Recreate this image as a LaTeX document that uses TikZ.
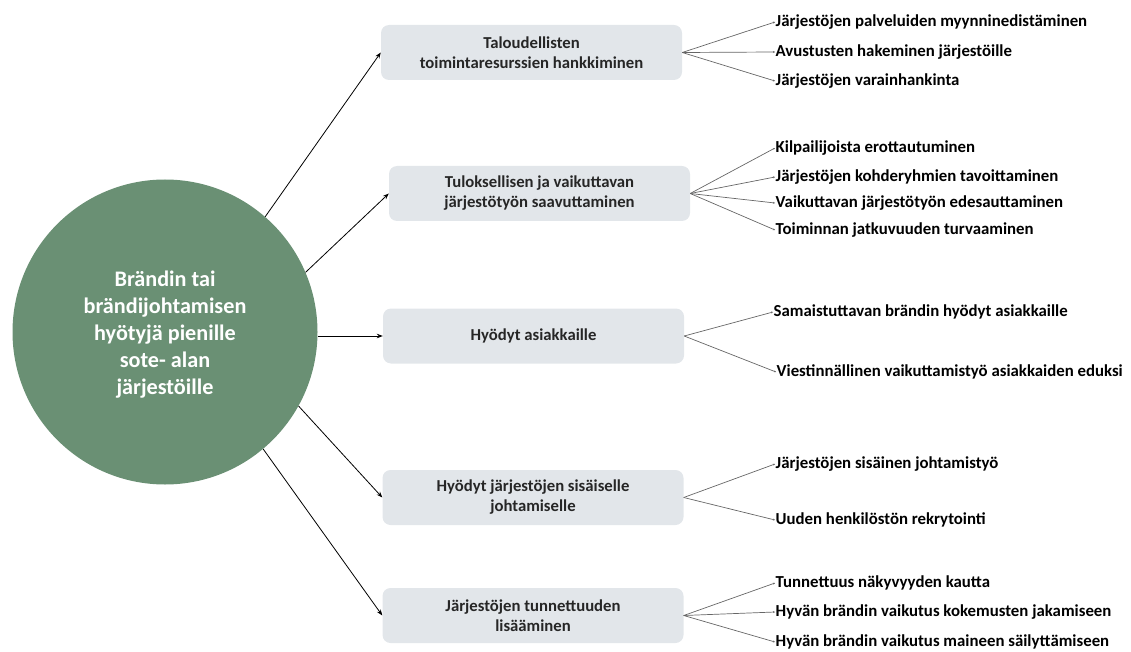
\documentclass[tikz,border=0pt]{standalone}
\usepackage{fontspec}
\setmainfont{Carlito}
\usetikzlibrary{arrows.meta}
\definecolor{circ}{RGB}{106,144,116}
\definecolor{boxc}{RGB}{226,230,234}
\begin{document}
\begin{tikzpicture}[x=1pt,y=-1pt,
 hub/.style={circle,fill=circ,minimum size=305pt,inner sep=0pt},
 hubtext/.style={inner sep=0pt,text=white,font=\bfseries\fontsize{22.2}{27}\selectfont,align=center},
 cat/.style={rounded corners=8pt,fill=boxc,minimum width=301pt,minimum height=55pt,inner sep=0pt,align=center,font=\bfseries\fontsize{16.7}{20}\selectfont,text=black!85},
 item/.style={anchor=west,inner sep=0.5pt,font=\bfseries\fontsize{16.8}{18}\selectfont},
 arr/.style={-{Stealth[length=6pt,width=4.5pt]},line width=0.8pt},
 leaf/.style={draw=black!60,line width=0.7pt,-{Stealth[length=2pt,width=2pt]}}
]
\useasboundingbox (0,0) rectangle (1131,652);

\node[hub] (hub) at (165,332) {};
\node[hubtext] (hubt) at (165,335) {Brändin tai\\ brändijohtamisen\\ hyötyjä pienille\\ sote- alan\\ järjestöille};

\node[cat] (b1) at (531.5,52.5) {Taloudellisten\\ toimintaresurssien hankkiminen};
\node[cat] (b2) at (539.5,193.5) {Tuloksellisen ja vaikuttavan\\ järjestötyön saavuttaminen};
\node[cat] (b3) at (533.5,336) {Hyödyt asiakkaille};
\node[cat] (b4) at (533,497.5) {Hyödyt järjestöjen sisäiselle\\ johtamiselle};
\node[cat] (b5) at (533,615.5) {Järjestöjen tunnettuuden\\ lisääminen};

\draw[arr] (hub.49.6) -- (b1.west);
\draw[arr] (hub.23.8) -- (b2.west);
\draw[arr] (b3.west -| hub.east) -- (b3.west);
\draw[arr] (hub.-29.6) -- (b4.west);
\draw[arr] (hub.-50.6) -- (b5.west);

\node[item] (i11) at (775,22) {Järjestöjen palveluiden myynninedistäminen};
\node[item] (i12) at (775,52) {Avustusten hakeminen järjestöille};
\node[item] (i13) at (775,81) {Järjestöjen varainhankinta};

\node[item] (i21) at (775,148) {Kilpailijoista erottautuminen};
\node[item] (i22) at (775,177) {Järjestöjen kohderyhmien tavoittaminen};
\node[item] (i23) at (775,203) {Vaikuttavan järjestötyön edesauttaminen};
\node[item] (i24) at (775,230) {Toiminnan jatkuvuuden turvaaminen};

\node[item] (i31) at (773,312) {Samaistuttavan brändin hyödyt asiakkaille};
\node[item] (i32) at (776,372) {Viestinnällinen vaikuttamistyö asiakkaiden eduksi};

\node[item] (i41) at (775,464) {Järjestöjen sisäinen johtamistyö};
\node[item] (i42) at (775,520) {Uuden henkilöstön rekrytointi};

\node[item] (i51) at (775,583) {Tunnettuus näkyvyyden kautta};
\node[item] (i52) at (775,612) {Hyvän brändin vaikutus kokemusten jakamiseen};
\node[item] (i53) at (775,642) {Hyvän brändin vaikutus maineen säilyttämiseen};

\foreach \b/\i in {b1/i11,b1/i12,b1/i13,b2/i21,b2/i22,b2/i23,b2/i24,b3/i31,b3/i32,b4/i41,b4/i42,b5/i51,b5/i52,b5/i53}
  \draw[leaf] (\b.east) -- (\i.west);
\end{tikzpicture}
\end{document}
